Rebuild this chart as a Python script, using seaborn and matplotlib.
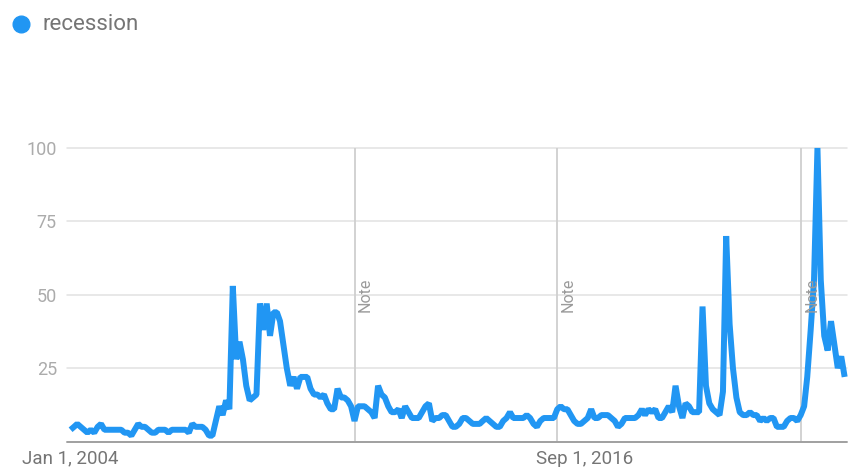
import numpy as np
import pandas as pd
import matplotlib
matplotlib.use("Agg")
import matplotlib.pyplot as plt
import seaborn as sns
from matplotlib.lines import Line2D

# ---------------- data ----------------
series_name = "recession"
start_month = "2004-01-01"
values_2004 = [4, 5, 6, 5, 4, 3, 4, 3, 5, 6, 4, 4]
values_2005 = [4, 4, 4, 4, 3, 3, 2, 4, 6, 5, 5, 4]
values_2006 = [3, 3, 4, 4, 4, 3, 4, 4, 4, 4, 4, 3]
values_2007 = [6, 5, 5, 5, 4, 2, 2, 7, 12, 9, 14, 11]
values_2008 = [53, 28, 34, 28, 19, 14, 15, 16, 47, 38, 47, 36]
values_2009 = [44, 44, 41, 33, 25, 19, 22, 18, 22, 22, 22, 18]
values_2010 = [16, 16, 15, 16, 13, 11, 11, 18, 15, 15, 14, 12]
values_2011 = [7, 12, 12, 12, 11, 10, 8, 19, 16, 15, 12, 10]
values_2012 = [10, 11, 8, 12, 10, 8, 8, 8, 10, 12, 13, 7]
values_2013 = [8, 8, 9, 9, 7, 5, 5, 6, 8, 8, 7, 6]
values_2014 = [6, 6, 7, 8, 7, 6, 5, 5, 7, 8, 10, 8]
values_2015 = [8, 8, 8, 9, 8, 6, 5, 7, 8, 8, 8, 8]
values_2016 = [11, 12, 11, 11, 9, 7, 6, 6, 7, 8, 11, 8]
values_2017 = [8, 9, 9, 9, 8, 7, 5, 6, 8, 8, 8, 8]
values_2018 = [9, 11, 9, 11, 10, 11, 8, 8, 10, 12, 10, 19]
values_2019 = [12, 8, 13, 12, 10, 10, 10, 46, 19, 13, 11, 10]
values_2020 = [9, 17, 70, 40, 25, 15, 10, 9, 9, 10, 9, 9]
values_2021 = [7, 8, 7, 8, 8, 5, 5, 5, 7, 8, 8, 7]
values_2022 = [9, 12, 22, 38, 55, 100, 55, 36, 31, 41, 33, 25]
values_2023 = [29, 22]

values = (values_2004 + values_2005 + values_2006 + values_2007 + values_2008 +
          values_2009 + values_2010 + values_2011 + values_2012 + values_2013 +
          values_2014 + values_2015 + values_2016 + values_2017 + values_2018 +
          values_2019 + values_2020 + values_2021 + values_2022 + values_2023)

note_dates = ["2011-01-01", "2016-01-01", "2022-01-01"]
tick_dates = ["2004-01-01", "2016-09-01"]
tick_labels = ["Jan 1, 2004", "Sep 1, 2016"]
y_ticks = [25, 50, 75, 100]
y_tick_labels = ["25", "50", "75", "100"]

# ---------------- styling ----------------
sns.set_theme(style="white")
plt.rcParams["font.family"] = ["Roboto", "DejaVu Sans"]

LINE_BLUE = "#2196F3"
GRID = "#e2e2e2"

dates = pd.date_range(start_month, periods=len(values), freq="MS")
df = pd.DataFrame({"date": dates, "value": values})

fig = plt.figure(figsize=(8.54, 4.67), dpi=100)
ax = fig.add_axes([0.0781, 0.0546, 0.9133, 0.6285])

# horizontal gridlines
for yv in y_ticks:
    ax.axhline(yv, color=GRID, linewidth=1.1, zorder=1, clip_on=False)
ax.axhline(0, color="#a0a0a0", linewidth=1.4, zorder=2, clip_on=False)

# note lines
for nd in note_dates:
    d = pd.Timestamp(nd)
    ax.axvline(d, color="#cfcfcf", linewidth=1.3, zorder=1)
    ax.annotate("Note", xy=(d, 50), xytext=(11, 0), textcoords="offset pixels",
                rotation=90, ha="center", va="center", color="#9a9a9a",
                fontsize=11.5, zorder=7)

sns.lineplot(data=df, x="date", y="value", ax=ax, color=LINE_BLUE,
             linewidth=4.3, clip_on=False, zorder=5,
             solid_joinstyle="bevel", solid_capstyle="butt")

ax.set_ylim(0, 100)
ax.set_xlim(dates[0] - pd.Timedelta(days=35), dates[-1] + pd.Timedelta(days=18))

ax.set_yticks(y_ticks)
ax.set_yticklabels(y_tick_labels)
ax.set_xticks(pd.to_datetime(tick_dates))
ax.set_xticklabels(tick_labels)
ax.tick_params(axis="y", length=0, pad=7, labelsize=13, labelcolor="#ababab")
ax.tick_params(axis="x", length=0, pad=6, labelsize=13.5, labelcolor="#757575")
ax.set_xlabel("")
ax.set_ylabel("")
ax.grid(False)
for s in ax.spines.values():
    s.set_visible(False)
legend = ax.get_legend()
if legend is not None:
    legend.remove()

# legend (top-left)
fig.add_artist(Line2D([21 / 854], [1 - 24 / 467], marker="o", markersize=12,
                      color=LINE_BLUE, linestyle="none", transform=fig.transFigure))
fig.text(42.5 / 854, 1 - 24 / 467, series_name, ha="left", va="center",
         fontsize=16, color="#757575")

fig.savefig("out.png", dpi=100, facecolor="white")
